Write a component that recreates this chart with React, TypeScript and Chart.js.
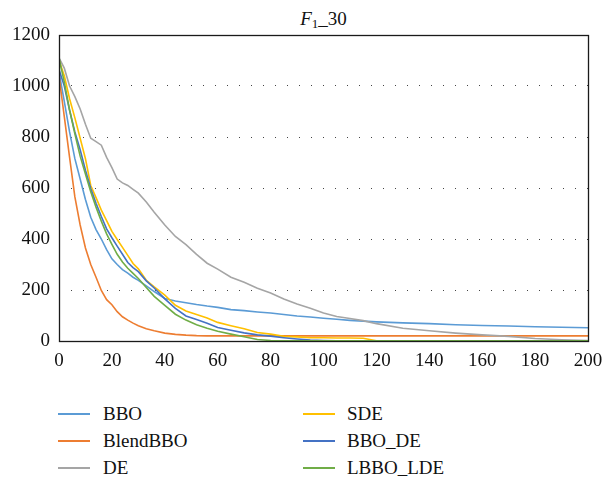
import React, { useEffect, useRef } from "react";
import { Chart, registerables } from "chart.js";

Chart.register(...registerables);

// Iteration numbers at which values were read
const iterations = [0, 2, 4, 6, 8, 10, 12, 14, 16, 18, 20, 22, 24, 26, 28, 30, 33, 36, 40, 44, 48, 52, 56, 60, 65, 70, 75, 80, 85, 90, 95, 100, 105, 110, 115, 120, 130, 140, 150, 160, 170, 180, 190, 200];

const BBO = [1055, 940, 820, 715, 635, 555, 485, 437, 400, 358, 322, 300, 280, 266, 250, 238, 216, 194, 167, 157, 150, 143, 137, 132, 123, 119, 114, 110, 104, 98, 94, 89, 85, 81, 78, 75, 71, 68, 64, 61, 59, 56, 54, 52];
const BlendBBO = [1040, 880, 720, 565, 455, 365, 300, 250, 198, 162, 142, 115, 95, 82, 70, 60, 48, 40, 31, 26, 23, 21, 20, 20, 20, 20, 20, 20, 20, 20, 20, 20, 20, 20, 20, 20, 20, 20, 20, 20, 20, 20, 20, 20];
const DE = [1110, 1070, 1000, 958, 910, 850, 795, 782, 768, 720, 680, 635, 620, 610, 595, 580, 545, 505, 455, 410, 378, 340, 305, 282, 250, 230, 207, 188, 165, 145, 128, 110, 96, 88, 80, 68, 50, 40, 31, 24, 18, 10, 5, 2];
const SDE = [1100, 1040, 950, 875, 795, 715, 610, 562, 513, 472, 430, 398, 367, 336, 304, 283, 238, 212, 180, 140, 118, 104, 90, 73, 60, 48, 33, 27, 18, 16, 13, 13, 12, 12, 11, 1, 1, 1, 1, 1, 1, 1, 1, 1];
const BBO_DE = [1065, 1000, 905, 820, 750, 670, 598, 540, 488, 440, 405, 372, 340, 308, 288, 272, 236, 208, 165, 128, 98, 84, 70, 53, 42, 32, 24, 19, 13, 8, 4, 2, 1, 1, 1, 1, 1, 1, 1, 1, 1, 1, 1, 1];
const LBBO_LDE = [1110, 1015, 906, 812, 725, 655, 585, 525, 470, 420, 379, 340, 310, 285, 265, 245, 210, 175, 140, 105, 82, 64, 50, 38, 27, 17, 6, 2, 1, 1, 1, 1, 1, 1, 1, 1, 1, 1, 1, 1, 1, 1, 1, 1];

const seriesNames = ["BBO", "BlendBBO", "DE", "SDE", "BBO_DE", "LBBO_LDE"];
const seriesValues = [BBO, BlendBBO, DE, SDE, BBO_DE, LBBO_LDE];
const seriesColors = ["#5B9BD5", "#ED7D31", "#A5A5A5", "#FFC000", "#4472C4", "#70AD47"];

const xMin = 0;
const xMax = 200;
const xStep = 20;
const yMin = 0;
const yMax = 1200;
const yStep = 200;

const FONT = "'Liberation Serif', 'Tinos', 'DejaVu Serif', serif";

export default function App() {
  const ref = useRef<HTMLCanvasElement>(null);

  useEffect(() => {
    document.body.style.margin = "0";
    const frame = {
      id: "frame",
      afterDatasetsDraw(chart: any) {
        const { ctx, chartArea } = chart;
        const { left, right, top, bottom } = chartArea;
        ctx.save();
        ctx.strokeStyle = "#1a1a1a";
        ctx.lineWidth = 1.3;
        ctx.strokeRect(Math.round(left) + 0.5, Math.round(top) + 0.5, Math.round(right - left), Math.round(bottom - top));
        ctx.restore();
      },
    };
    const chart = new Chart(ref.current as HTMLCanvasElement, {
      type: "line",
      data: {
        datasets: seriesNames.map((name, i) => ({
          label: name,
          data: iterations.map((x, j) => ({ x, y: seriesValues[i][j] })),
          borderColor: seriesColors[i],
          backgroundColor: seriesColors[i],
          borderWidth: 1.6,
          pointRadius: 0,
          fill: false,
          tension: 0,
          order: seriesNames.length - i,
        })),
      },
      options: {
        animation: false,
        responsive: false,
        devicePixelRatio: 1,
        layout: { padding: { top: 35, right: 22, left: 0, bottom: 0 } },
        plugins: {
          legend: { display: false },
          title: { display: false },
          tooltip: { enabled: false },
        },
        scales: {
          x: {
            type: "linear",
            min: xMin,
            max: xMax,
            ticks: {
              stepSize: xStep,
              font: { family: FONT, size: 19 },
              color: "#111",
              padding: 1,
              maxRotation: 0,
              autoSkip: false,
              callback: (v: any) => String(v),
            },
            grid: { display: false },
            border: { display: false },
            afterFit(s: any) {
              s.height = 29;
            },
          },
          y: {
            type: "linear",
            min: yMin,
            max: yMax,
            ticks: {
              stepSize: yStep,
              font: { family: FONT, size: 19 },
              color: "#111",
              padding: 9,
              callback: (v: any) => String(v),
            },
            grid: { color: "#444", lineWidth: 1, drawTicks: false },
            border: { display: false, dash: [1, 11] },
            afterFit(s: any) {
              s.width = 59;
            },
          },
        },
      } as any,
      plugins: [frame],
    });
    return () => chart.destroy();
  }, []);

  const rows = [414, 441, 468];
  const cols = [
    { line: 58, text: 103 },
    { line: 303, text: 347 },
  ];

  return (
    <div style={{ position: "relative", width: 610, height: 479, fontFamily: FONT, color: "#111", overflow: "hidden" }}>
      <div
        style={{
          position: "absolute",
          left: 0,
          width: 647,
          top: 9,
          textAlign: "center",
          fontSize: 19,
          lineHeight: "19px",
          whiteSpace: "nowrap",
          fontFamily: FONT,
        }}
      >
        <i>F</i>
        <span style={{ fontSize: 13, position: "relative", top: 3 }}>1</span>
        <span>_30</span>
      </div>
      <canvas ref={ref} width={610} height={370} style={{ position: "absolute", left: 0, top: 0 }} />
      {seriesNames.map((name, i) => {
        const col = cols[Math.floor(i / 3)];
        const cy = rows[i % 3];
        return (
          <div key={name}>
            <div
              style={{
                position: "absolute",
                left: col.line,
                top: cy - 1,
                width: 32,
                height: 2,
                background: seriesColors[i],
              }}
            />
            <div
              style={{
                position: "absolute",
                left: col.text,
                top: cy - 12,
                height: 24,
                lineHeight: "24px",
                fontSize: 19,
                whiteSpace: "nowrap",
                fontFamily: FONT,
              }}
            >
              {name}
            </div>
          </div>
        );
      })}
    </div>
  );
}
